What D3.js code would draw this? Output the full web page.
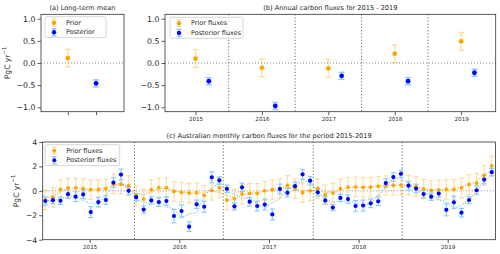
<!DOCTYPE html>
<html>
<head>
<meta charset="utf-8">
<title>Australian carbon fluxes</title>
<script src="https://d3js.org/d3.v7.min.js"></script>
<style>
  body { margin: 0; background: #fff; }
  svg text { font-family: "DejaVu Sans", sans-serif; fill: #262626; }
</style>
</head>
<body>
<div id="chart"></div>
<script>
// (a) long-term mean
const meanLabels = ['Prior', 'Posterior'];
const meanValues = [0.11, -0.46];
const meanErrors = [0.20, 0.08];

// (b) annual fluxes
const years = [2015, 2016, 2017, 2018, 2019];
const annualPrior = [0.10, -0.11, -0.12, 0.21, 0.49];
const annualPriorErr = [0.20, 0.20, 0.20, 0.20, 0.20];
const annualPost = [-0.41, -0.97, -0.29, -0.41, -0.22];
const annualPostErr = [0.08, 0.08, 0.08, 0.08, 0.08];

// (c) monthly fluxes, Jan 2015 .. Dec 2019
const monthlyPrior = [
  -0.75, -0.55, 0.12, 0.24, 0.24, 0.19, 0.10, 0.11, 0.18, 0.55, 0.55, 0.43,
  -0.40, -0.67, 0.10, 0.26, 0.26, -0.05, -0.12, -0.18, -0.15, -0.37, 0.04, 0.27,
  -0.75, -0.65, -0.25, -0.20, -0.20, 0.00, 0.10, 0.20, 0.45, 0.20, -0.15, 0.00,
  0.20, -0.32, -0.18, 0.17, 0.30, 0.32, 0.28, 0.30, 0.38, 0.43, 0.46, 0.47,
  0.47, 0.35, 0.15, 0.04, 0.08, 0.12, 0.12, 0.25, 0.52, 0.63, 1.27, 2.04
];
const monthlyPriorErr = [
  0.8, 0.8, 0.8, 0.8, 0.8, 0.8, 0.8, 0.8, 0.8, 0.8, 0.8, 0.8,
  0.8, 0.8, 0.8, 0.8, 0.8, 0.8, 0.8, 0.8, 0.8, 0.8, 0.8, 0.8,
  0.8, 0.8, 0.8, 0.8, 0.8, 0.8, 0.8, 0.8, 0.8, 0.8, 0.8, 0.8,
  0.8, 0.8, 0.8, 0.8, 0.8, 0.8, 0.8, 0.8, 0.8, 0.8, 0.8, 0.8,
  0.8, 0.8, 0.8, 0.8, 0.8, 0.8, 0.8, 0.8, 0.8, 0.8, 0.8, 0.8
];
const monthlyPost = [
  -0.83, -0.76, -0.81, -0.27, -0.48, -0.29, -1.74, -0.92, -0.75, 0.68, 1.33, 0.00,
  -0.52, -1.53, -0.78, -0.92, -0.83, -2.06, -1.65, -2.93, -1.10, -1.30, 1.11, 0.85,
  0.17, -1.27, 0.29, -0.89, -1.24, -1.12, -1.93, 0.15, -0.16, 0.38, 1.35, 0.83,
  -0.12, -0.78, -1.37, -0.58, -0.67, -1.24, -1.20, -1.02, -0.85, 0.64, 1.13, 1.40,
  0.42, 0.19, -0.26, -0.48, -0.22, -1.55, -0.94, -1.79, -0.75, 0.05, 0.92, 1.53
];
const monthlyPostErr = [
  0.33, 0.30, 0.30, 0.35, 0.40, 0.35, 0.45, 0.40, 0.35, 0.40, 0.45, 0.30,
  0.30, 0.30, 0.30, 0.35, 0.35, 0.55, 0.50, 0.40, 0.35, 0.45, 0.45, 0.30,
  0.30, 0.30, 0.35, 0.35, 0.40, 0.45, 0.45, 0.40, 0.35, 0.35, 0.40, 0.35,
  0.30, 0.30, 0.25, 0.30, 0.35, 0.45, 0.45, 0.35, 0.35, 0.35, 0.35, 0.30,
  0.35, 0.35, 0.30, 0.30, 0.30, 0.50, 0.50, 0.35, 0.30, 0.35, 0.35, 0.30
];
// tick and year-break positions on the month axis (month index)
const yearTickPos = [5.86, 17.7, 29.56, 41.41, 53.18];
const yearBreakPos = [11.78, 23.52, 35.42, 47.16];

const ORANGE = '#ffa500', BLUE = '#0000ff';
const ORANGE_ERR = 'rgba(255,165,0,0.35)', BLUE_ERR = '#87cefa';

const svg = d3.select('#chart').append('svg')
    .attr('width', 500).attr('height', 254);

function makePanel(box) {
  const w = box.right - box.left, h = box.bottom - box.top;
  const g = svg.append('g').attr('transform', `translate(${box.left},${box.top})`);
  return {g, w, h};
}

function frame(p) {
  p.g.append('rect').attr('width', p.w).attr('height', p.h)
     .attr('fill', 'none').attr('stroke', '#333').attr('stroke-width', 0.8);
}

function styleAxis(sel, size) {
  sel.select('.domain').remove();
  sel.selectAll('.tick line').attr('stroke', '#333').attr('stroke-width', 0.8);
  sel.selectAll('.tick text').attr('font-size', size).attr('fill', '#262626')
     .style('font-family', '"DejaVu Sans", sans-serif');
}

function zeroLine(p, y) {
  p.g.append('line').attr('x1', 0).attr('x2', p.w)
     .attr('y1', y(0)).attr('y2', y(0))
     .attr('stroke', '#888').attr('stroke-width', 1).attr('stroke-dasharray', '1,2');
}

function vBreaks(p, xs, x) {
  p.g.selectAll(null).data(xs).join('line')
     .attr('x1', d => x(d)).attr('x2', d => x(d))
     .attr('y1', 0).attr('y2', p.h)
     .attr('stroke', '#555').attr('stroke-width', 1).attr('stroke-dasharray', '1,2.2');
}

function errorbars(g, xs, vals, errs, x, y, color, cap, sw) {
  const data = d3.zip(xs, vals, errs);
  g.selectAll(null).data(data).join('line')
     .attr('x1', d => x(d[0])).attr('x2', d => x(d[0]))
     .attr('y1', d => y(d[1] - d[2])).attr('y2', d => y(d[1] + d[2]))
     .attr('stroke', color).attr('stroke-width', sw);
  ['-', '+'].forEach(s => {
    g.selectAll(null).data(data).join('line')
       .attr('x1', d => x(d[0]) - cap / 2).attr('x2', d => x(d[0]) + cap / 2)
       .attr('y1', d => y(s === '-' ? d[1] - d[2] : d[1] + d[2]))
       .attr('y2', d => y(s === '-' ? d[1] - d[2] : d[1] + d[2]))
       .attr('stroke', color).attr('stroke-width', sw);
  });
}

function dots(g, xs, vals, x, y, color, r) {
  g.selectAll(null).data(d3.zip(xs, vals)).join('circle')
     .attr('cx', d => x(d[0])).attr('cy', d => y(d[1])).attr('r', r)
     .attr('fill', color);
}

function title(p, text) {
  p.g.append('text').attr('x', p.w / 2).attr('y', -4.5)
     .attr('text-anchor', 'middle').attr('font-size', 6.6).text(text);
}

function yLabel(cx, cy) {
  const t = svg.append('text')
     .attr('transform', `translate(${cx},${cy}) rotate(-90)`)
     .attr('text-anchor', 'middle').attr('dominant-baseline', 'central')
     .attr('font-size', 7.6);
  t.append('tspan').text('PgC yr');
  t.append('tspan').attr('dy', -3).attr('font-size', 5.3).text('\u22121');
}

function legend(x0, y0, w, labels, r) {
  const g = svg.append('g').attr('transform', `translate(${x0},${y0})`);
  g.append('rect').attr('width', w).attr('height', 21).attr('rx', 1.5)
   .attr('fill', 'white').attr('fill-opacity', 0.8)
   .attr('stroke', '#ccc').attr('stroke-width', 0.8);
  const colors = [[ORANGE, ORANGE_ERR], [BLUE, BLUE_ERR]];
  labels.forEach((lab, k) => {
    const cy = 6 + k * 9.6, cx = 9;
    errorbars(g, [cx], [cy], [3.6], d => d, d => d, colors[k][1], 5, 1.3);
    dots(g, [cx], [cy], d => d, d => d, colors[k][0], r);
    g.append('text').attr('x', 21).attr('y', cy).attr('dominant-baseline', 'central')
     .attr('font-size', 6.5).text(lab);
  });
}

// ---------------- (a) ----------------
const pa = makePanel({left: 41, top: 14.3, right: 124, bottom: 111.7});
const xa = d3.scaleLinear().domain([-0.95, 1.99]).range([0, pa.w]);
const ya = d3.scaleLinear().domain([-1.1, 1.1]).range([pa.h, 0]);
zeroLine(pa, ya);
errorbars(pa.g, [0], [meanValues[0]], [meanErrors[0]], xa, ya, ORANGE_ERR, 6, 1.4);
errorbars(pa.g, [1], [meanValues[1]], [meanErrors[1]], xa, ya, BLUE_ERR, 6, 1.4);
dots(pa.g, [0], [meanValues[0]], xa, ya, ORANGE, 2.4);
dots(pa.g, [1], [meanValues[1]], xa, ya, BLUE, 2.4);
frame(pa);
pa.g.append('g').call(d3.axisLeft(ya).tickValues([-1, -0.5, 0, 0.5, 1])
      .tickFormat(d3.format('.1f')).tickSize(3.5).tickPadding(2))
   .call(s => styleAxis(s, 7.8));
pa.g.append('g').attr('transform', `translate(0,${pa.h})`)
   .call(d3.axisBottom(xa).tickValues([0, 1]).tickFormat('').tickSize(3.5))
   .call(s => styleAxis(s, 6));
title(pa, '(a) Long-term mean');
yLabel(7, 63);
legend(45, 16.7, 61, meanLabels, 2.2);

// ---------------- (b) ----------------
const pb = makePanel({left: 165, top: 14.3, right: 495.7, bottom: 111.7});
const xb = d3.scaleLinear().domain([2014.54, 2019.52]).range([0, pb.w]);
const yb = d3.scaleLinear().domain([-1.1, 1.1]).range([pb.h, 0]);
zeroLine(pb, yb);
vBreaks(pb, years.slice(0, -1).map(d => d + 0.5), xb);
const postYears = years.map(d => d + 0.2);
errorbars(pb.g, years, annualPrior, annualPriorErr, xb, yb, ORANGE_ERR, 6, 1.4);
errorbars(pb.g, postYears, annualPost, annualPostErr, xb, yb, BLUE_ERR, 6, 1.4);
dots(pb.g, years, annualPrior, xb, yb, ORANGE, 2.4);
dots(pb.g, postYears, annualPost, xb, yb, BLUE, 2.4);
frame(pb);
pb.g.append('g').call(d3.axisLeft(yb).tickValues([-1, -0.5, 0, 0.5, 1])
      .tickFormat(d3.format('.1f')).tickSize(3.5).tickPadding(2))
   .call(s => styleAxis(s, 7.8));
pb.g.append('g').attr('transform', `translate(0,${pb.h})`)
   .call(d3.axisBottom(xb).tickValues(years).tickFormat(d3.format('d'))
      .tickSize(3.5).tickPadding(2))
   .call(s => styleAxis(s, 5.6));
title(pb, '(b) Annual carbon fluxes for 2015 - 2019');
legend(170, 17.3, 73, ['Prior fluxes', 'Posterior fluxes'], 2.2);

// ---------------- (c) ----------------
const pc = makePanel({left: 42.7, top: 142, right: 495.5, bottom: 239.7});
const months = d3.range(monthlyPost.length);
const xc = d3.scaleLinear().domain([-0.35, 59.5]).range([0, pc.w]);
const yc = d3.scaleLinear().domain([-4, 4]).range([pc.h, 0]);
zeroLine(pc, yc);
vBreaks(pc, yearBreakPos, xc);

// 3-month centred running mean drawn as dotted guide lines
const runMean = arr => arr.map((v, i) => d3.mean(arr.slice(Math.max(0, i - 1), i + 2)));
const line = d3.line().x((d, i) => xc(i)).y(d => yc(d));
pc.g.append('path').datum(runMean(monthlyPrior)).attr('d', line)
   .attr('fill', 'none').attr('stroke', ORANGE).attr('stroke-width', 1.1)
   .attr('stroke-dasharray', '1,1.6');
pc.g.append('path').datum(runMean(monthlyPost)).attr('d', line)
   .attr('fill', 'none').attr('stroke', '#6bbbf0').attr('stroke-width', 1.1)
   .attr('stroke-dasharray', '1,1.6');

errorbars(pc.g, months, monthlyPrior, monthlyPriorErr, xc, yc, ORANGE_ERR, 5, 1.2);
errorbars(pc.g, months, monthlyPost, monthlyPostErr, xc, yc, BLUE_ERR, 5, 1.2);
dots(pc.g, months, monthlyPrior, xc, yc, ORANGE, 1.9);
dots(pc.g, months, monthlyPost, xc, yc, BLUE, 2.1);
frame(pc);
pc.g.append('g').call(d3.axisLeft(yc).tickValues([-4, -2, 0, 2, 4])
      .tickFormat(d3.format('d')).tickSize(3.5).tickPadding(2))
   .call(s => styleAxis(s, 7.6));
pc.g.append('g').attr('transform', `translate(0,${pc.h})`)
   .call(d3.axisBottom(xc).tickValues(yearTickPos)
      .tickFormat((d, i) => years[i]).tickSize(3.5).tickPadding(2))
   .call(s => styleAxis(s, 5.6));
title(pc, '(c) Australian monthly carbon fluxes for the period 2015-2019');
yLabel(16, 191);
legend(45.3, 144.7, 74.4, ['Prior fluxes', 'Posterior fluxes'], 2.0);
</script>
</body>
</html>
